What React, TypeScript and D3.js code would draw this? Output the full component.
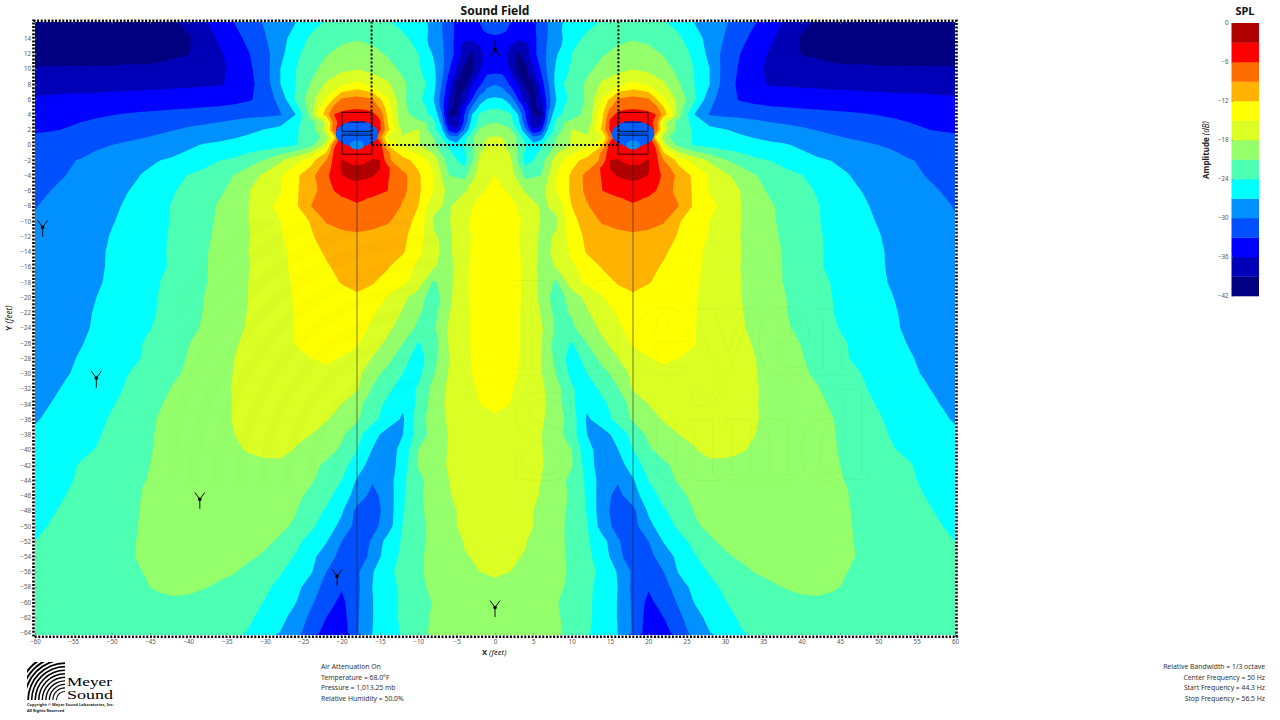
import React, { useRef, useEffect } from 'react';
import * as d3 from 'd3';

// band floors in dB and their fill, low to high
const levels = [-42, -39, -36, -33, -30, -27, -24, -21, -18, -15, -12, -9, -6, -3];
const levelColors = ['#000080', '#0000b6', '#0000ff', '#0050ff', '#0090ff', '#00ffff', '#4dffb2', '#94ff6b', '#dbff24', '#ffff00', '#ffb200', '#ff6d00', '#ff0000', '#b00000'];
const legendTicks = [0, -6, -12, -18, -24, -30, -36, -42];

const xTicks = d3.range(-60, 61, 5);
const yTicks = d3.range(14, -65, -2);

// SPL, x = -60..0 every 2 ft, y = 16..-64 every 2 ft. The field is mirrored about x = 0.
const fieldRows = [
  [-41, -41, -41, -41, -41, -41, -41, -41, -40.5, -39.5, -38.2, -36.5, -34.8, -33, -31.3, -29.7, -28.4, -27, -25, -23.6, -22.7, -22.3, -22.8, -23.5, -25, -26.2, -28.4, -31.3, -33.8, -33, -32],
  [-40.5, -40.5, -40.5, -40.5, -40.5, -40.5, -40.5, -40.5, -40.5, -40.3, -39.3, -37.4, -35.6, -33.9, -32.2, -30.2, -28, -25.8, -23.5, -22.5, -21.6, -21.2, -21.6, -22.4, -23.3, -25.2, -27.8, -31.3, -33.8, -34.5, -34.5],
  [-40, -40, -39.9, -39.9, -39.8, -39.8, -39.7, -39.7, -39.6, -39.4, -39.1, -37.9, -36.4, -34.8, -33, -31, -27.9, -24.6, -22.7, -21.2, -20.2, -19.8, -20.3, -21.3, -22.3, -24, -26.3, -31, -40.5, -37.5, -35],
  [-38.8, -38.8, -38.8, -38.8, -38.8, -38.8, -38.7, -38.7, -38.6, -38.2, -37.9, -37.3, -36.5, -35.5, -33.4, -31.3, -27, -24.1, -21.9, -19.9, -18.7, -18.2, -18.9, -20, -21.7, -23.5, -26.3, -33, -40.5, -37.5, -34.4],
  [-37, -37, -36.9, -36.9, -36.8, -36.7, -36.6, -36.5, -36.5, -36.4, -36.4, -36.3, -36.2, -35.6, -33.7, -31.5, -27, -24, -20.8, -17.6, -15.7, -14.2, -15.8, -17.5, -20.4, -23, -26, -34.5, -40, -33.6, -30.2],
  [-35.7, -35.6, -35.5, -35.4, -35.4, -35.3, -35.3, -35.2, -35.1, -35, -34.8, -34.6, -34.4, -34, -33.3, -31.7, -29, -23.4, -19.1, -14.5, -8.6, -7.7, -8.8, -14.7, -20.5, -23.4, -27, -37, -40, -28.5, -26.5],
  [-34, -33.9, -33.7, -33.5, -33.3, -33.1, -32.8, -32.5, -32.3, -32, -31.8, -31.5, -31.3, -31, -30.7, -30.5, -30.2, -27, -20, -10.5, -5.2, -4.6, -5.3, -12.5, -19.8, -22.7, -25, -39, -33, -23.8, -22.6],
  [-33.4, -33.2, -32.9, -32.5, -32.1, -31.7, -31.3, -31, -30.6, -30.1, -29.6, -29.2, -28.7, -28.1, -27.5, -26.9, -26, -24.5, -22, -16, -4.5, -4, -4.5, -13, -19, -17.8, -22.9, -33.8, -29.6, -20.6, -19.6],
  [-31.7, -31.4, -31.1, -30.8, -30.4, -30, -29.6, -29.2, -28.7, -28.3, -27.5, -26.8, -26.5, -26.2, -25.8, -25.4, -25, -24.3, -21.8, -16.5, -4.3, -3.8, -4.3, -12, -16, -17.8, -20.5, -24.4, -23.9, -18.8, -16.8],
  [-31, -30.6, -30.2, -29.9, -29.3, -28.6, -28, -27.5, -27.1, -26.6, -26, -25.3, -24.1, -23.5, -22.2, -20.8, -18.5, -16, -13.5, -9, -2.8, -4, -2.8, -8, -11, -13, -16.4, -22.5, -25.3, -17.5, -15.8],
  [-30.6, -30.3, -30, -29.6, -29, -28.4, -27.6, -26.9, -26, -25, -23.9, -23, -22, -20.9, -19.3, -17.3, -15.3, -12.8, -9.5, -6.5, -3.1, -2.2, -2.8, -5.7, -8, -11.5, -15, -21, -21.8, -16.5, -15],
  [-30.5, -30, -29.5, -29, -28.4, -27.8, -27.1, -26.3, -25.5, -24.2, -23.2, -22.3, -21.5, -20.1, -18, -16.9, -15.2, -12.5, -9.8, -7.9, -5.2, -4.5, -5, -6, -8.2, -11.4, -15, -19, -18.5, -15.2, -14.6],
  [-30.1, -29.6, -29.1, -28.5, -28.1, -27.6, -26.6, -25.7, -24.8, -23.8, -22.9, -22, -20.7, -19.4, -17.9, -16, -14.1, -12.5, -9, -7.6, -6.7, -6.2, -6.7, -7.6, -9.2, -12, -17.5, -18.4, -15.6, -14.6, -14.2],
  [-29.8, -29.4, -28.8, -28.4, -28, -27.2, -26.3, -25.5, -24.7, -23.8, -22.9, -22, -20.5, -19.3, -17.9, -16.4, -15, -13.4, -11.8, -8.7, -7.7, -7.2, -7.8, -8.6, -10.7, -12.9, -18.3, -18.2, -15.4, -14, -13.8],
  [-29.5, -29.1, -28.7, -28.3, -27.9, -26.8, -26, -25.3, -24.5, -23.7, -22.7, -21.6, -20.4, -19.2, -18, -16.4, -15.2, -13.9, -12.3, -10.7, -10, -9.7, -10, -10.7, -11.4, -13.5, -17.8, -18.5, -15.8, -14, -13.6],
  [-29.3, -28.9, -28.5, -28.1, -27.6, -26.6, -25.9, -25.2, -24.5, -23.6, -22.6, -21.3, -20.3, -19.2, -17.9, -16.9, -15.6, -14.3, -13, -11.6, -11, -10.6, -11, -11.4, -11.7, -14.3, -17.6, -18.6, -15.6, -14, -13.5],
  [-29.2, -28.8, -28.4, -28, -27.5, -26.6, -25.9, -25.2, -24.6, -23.6, -22.6, -21.3, -20.2, -19.2, -18, -16.8, -15.6, -14.4, -13.3, -12.3, -11.3, -10.8, -11.2, -11.8, -13.5, -15.6, -17.8, -19, -15.4, -14, -13.5],
  [-29.2, -28.8, -28.4, -28, -27.4, -26.4, -25.7, -25.1, -24.1, -23.4, -22.5, -21.3, -20.1, -19, -17.9, -16.8, -15.6, -14.7, -13.9, -13, -11.8, -11.4, -11.8, -13, -14.4, -16.3, -21.5, -18.8, -15.4, -14, -13.5],
  [-29.1, -28.7, -28.3, -27.9, -27, -26.4, -25.7, -25, -24, -23.2, -22.3, -21, -19.9, -18.9, -17.9, -16.8, -15.8, -14.8, -14.3, -13.8, -13.3, -12.3, -13, -15.3, -17.2, -19.6, -22.8, -18.7, -15.4, -14, -13.4],
  [-29, -28.6, -28.1, -27.5, -26.8, -26.2, -25.5, -24.9, -23.9, -23, -22.1, -20.9, -19.8, -18.8, -17.8, -16.9, -15.9, -14.8, -14.4, -14, -13.6, -13.2, -14.7, -16.4, -18.3, -20.7, -22, -18.2, -15.6, -14, -13.4],
  [-28.8, -28.4, -27.9, -27.4, -26.7, -26, -25.4, -24.6, -23.6, -22.7, -21.7, -20.7, -19.7, -18.6, -17.7, -16.9, -15.9, -14.9, -14.5, -14.2, -13.9, -13.8, -15.5, -17.3, -19.5, -21.5, -21.5, -17.5, -15.6, -14, -13.4],
  [-28.6, -28.1, -27.6, -27.1, -26.5, -25.8, -25.1, -24, -23.1, -22.1, -21.1, -20.1, -19.2, -18.2, -17.5, -16.6, -15.8, -14.9, -14.6, -14.4, -14.3, -14.7, -16.7, -18.6, -21, -24.2, -22.4, -17.8, -15.6, -14, -13.4],
  [-28.4, -27.9, -27.4, -26.8, -26.2, -25.5, -24.8, -23.9, -23, -22, -20.8, -19.9, -19, -18, -17.6, -17, -16.2, -15.5, -15, -14.7, -15.1, -16, -18.1, -20, -22.8, -25.5, -21.9, -18, -15.6, -14.2, -13.5],
  [-28.4, -28, -27.2, -26.5, -25.9, -25.2, -24.1, -23.2, -22.3, -21.4, -20.6, -19.7, -18.8, -17.9, -17.4, -16.8, -16.2, -15.7, -15.5, -15.4, -15.7, -17.2, -19.8, -22, -24, -24.8, -21.2, -17.8, -15.5, -14.5, -14],
  [-28, -27.5, -26.7, -26.2, -25.7, -24.8, -23.7, -22.8, -21.9, -20.8, -20, -19.2, -18.4, -17.9, -17.5, -17.1, -16.7, -16.2, -16, -16, -16.6, -17.7, -21.2, -23.2, -25.7, -23.6, -19.9, -17.4, -15.8, -14.8, -14.4],
  [-27.6, -27, -26.3, -25.8, -25.2, -24.2, -23.3, -22.4, -21.3, -20.4, -19.6, -19, -18.5, -17.9, -17.5, -17.1, -16.9, -16.8, -16.9, -17.3, -18, -20.1, -22.5, -24.7, -26.5, -23.3, -19.6, -17.3, -16, -15, -14.7],
  [-27.2, -26.6, -25.9, -25.3, -24.7, -23.7, -22.7, -21.9, -20.9, -20.1, -19.5, -18.9, -18.4, -17.9, -17.6, -17.4, -17.3, -17.2, -17.3, -17.8, -19, -20.6, -23, -25.6, -27.4, -22.4, -19.4, -17.6, -16.4, -15.6, -15.2],
  [-26.6, -26, -25.3, -24.7, -24.3, -23.4, -22.6, -21.7, -20.8, -20.1, -19.5, -19, -18.5, -18, -17.8, -17.7, -17.6, -17.7, -18, -19, -20.5, -22.9, -26.1, -28, -27, -22.6, -19.8, -17.9, -16.8, -16, -15.5],
  [-26, -25.5, -25, -24.5, -23.9, -23.2, -22.4, -21.6, -20.7, -20.1, -19.6, -19.2, -18.8, -18.3, -17.8, -17.5, -17.4, -18.1, -19, -20, -21.4, -24, -27.1, -28.2, -26.2, -21, -19.5, -17.8, -16.9, -16.2, -15.8],
  [-25.5, -25.1, -24.6, -23.8, -23.2, -22.6, -22.1, -21.4, -20.6, -20.2, -19.8, -19.5, -19.2, -18.9, -18.6, -18.4, -18.5, -19, -20.2, -21.5, -23, -25.3, -28.5, -28.7, -25.5, -20.7, -19.3, -17.7, -16.9, -16.3, -16],
  [-25.1, -24.7, -24.2, -23.8, -23.2, -22.7, -22.1, -21.1, -20.7, -20.4, -20.1, -19.8, -19.5, -19.3, -19.2, -19.2, -19.4, -19.9, -20.7, -22, -24, -27.3, -29.7, -28.6, -24.5, -21.8, -19.7, -18, -17.3, -16.7, -16.3],
  [-24.8, -24.4, -24, -23.6, -23.2, -22.7, -22.1, -20.9, -20.7, -20.4, -20.2, -20, -19.8, -19.7, -19.7, -19.8, -20, -20.4, -21.6, -23.1, -25.4, -28.2, -30.9, -28.7, -24.4, -21.5, -19.7, -18.1, -17.5, -17, -16.7],
  [-24.5, -24.2, -23.7, -23.4, -23, -22.4, -21.8, -20.8, -20.6, -20.4, -20.2, -20.1, -20, -20, -20.1, -20.2, -20.4, -20.9, -22.9, -24.3, -26.6, -30.8, -31.5, -28.8, -24.2, -21.6, -20, -18.3, -17.7, -17.2, -17],
  [-24.4, -23.9, -23.4, -23.1, -22.7, -22.1, -21.5, -20.8, -20.6, -20.4, -20.3, -20.2, -20.1, -20, -20.1, -20.3, -20.6, -21.3, -23.4, -25.5, -27.8, -31.1, -31, -28.5, -23.8, -21.6, -20.3, -18.3, -17.7, -17.4, -17.2],
  [-24, -23.4, -23, -22.6, -22.2, -21.7, -21.3, -20.8, -20.6, -20.4, -20.3, -20.2, -20.1, -20.2, -20.3, -20.6, -21.3, -23.3, -25, -26.8, -30, -31.9, -29.6, -25.9, -23.6, -21.5, -20.4, -19.1, -17.9, -17.6, -17.4],
  [-23.9, -23.2, -22.8, -22.4, -22, -21.6, -21.2, -20.8, -20.6, -20.4, -20.3, -20.3, -20.4, -20.5, -20.7, -21.3, -22.8, -24.2, -26.2, -28.5, -31, -32.5, -28.8, -25.5, -23.3, -21.3, -20.5, -19.3, -18.1, -17.8, -17.6],
  [-23.7, -23, -22.6, -22.2, -21.9, -21.6, -21.3, -21, -20.7, -20.6, -20.6, -20.6, -20.7, -20.9, -21.6, -22.3, -23.8, -25.1, -26.7, -30, -32.5, -30.5, -27.2, -24.7, -23, -21.2, -20.6, -19.7, -18.8, -18, -17.8],
  [-23.5, -22.9, -22.5, -22.1, -21.8, -21.6, -21.3, -21.1, -20.9, -20.7, -20.7, -20.9, -21.2, -21.7, -22.5, -23.6, -24.6, -26, -28.6, -31, -32.7, -30.7, -27, -25.1, -23.3, -21.5, -20.5, -19.9, -19.1, -18.6, -18.3],
  [-23.3, -22.8, -22.4, -22.1, -21.9, -21.7, -21.5, -21.3, -21.2, -21.2, -21.3, -21.6, -22, -22.6, -23.3, -24.1, -25.4, -26.9, -29.6, -31.7, -33.8, -30.5, -27.1, -25.2, -23.4, -21.7, -20.9, -20.3, -19.8, -19.4, -19.2],
  [-23.3, -22.9, -22.5, -22.3, -22.1, -21.9, -21.8, -21.7, -21.6, -21.7, -21.8, -22, -22.3, -22.9, -23.6, -25, -26.1, -28.2, -30.6, -33, -34.3, -30.4, -27.1, -25.2, -23.4, -21.8, -20.7, -20.4, -20, -19.6, -19.5],
  [-23.4, -23, -22.7, -22.5, -22.3, -22.2, -22.1, -22, -22, -22.1, -22.2, -22.4, -22.7, -23.2, -24.3, -25.7, -27.1, -29, -31.6, -34.2, -34.8, -30.3, -27, -25.1, -23.7, -21.8, -20.5, -20.1, -19.9, -19.7, -19.6],
];

// finer reading round the left loudspeaker, x = -24..-12 every 1 ft, y = 6..-8 every 1 ft
const nearRows = [
  [-19.1, -17, -14.5, -11.7, -8.6, -7.9, -7.7, -7.9, -8.8, -11.5, -14.7, -17.4, -20.5],
  [-19.5, -15.8, -12, -8.3, -7, -6.7, -6.5, -6.7, -7.3, -9.4, -13.6, -17.3, -20.2],
  [-20, -14, -10.5, -6, -5.2, -4.8, -4.6, -4.8, -5.3, -7, -12.5, -17, -19.8],
  [-22, -20, -17, -7, -4.6, -4.2, -4, -4.2, -4.6, -5.5, -12, -16.5, -19.8],
  [-22, -20, -16, -6.5, -4.5, -4, -4, -4, -4.5, -5.5, -11, -15.3, -19],
  [-23, -21.5, -19, -13, -4, -4, -4, -4, -4, -8, -15.5, -16.8, -18],
  [-21.8, -19.8, -16.5, -6.5, -4.3, -4, -3.8, -4, -4.3, -4.5, -12, -14.5, -16],
  [-17.5, -14.5, -12, -5.5, -4, -3.7, -3.6, -3.7, -4, -4.5, -8, -11.5, -13.5],
  [-13.5, -10.5, -9, -5, -2.8, -3.5, -4, -3.5, -2.8, -3, -8, -10.2, -11],
  [-11.5, -9.2, -7.5, -5, -2.6, -2.4, -2.6, -2.4, -2.6, -2.9, -5.2, -8, -10],
  [-9.5, -8.5, -6.5, -5, -3.1, -2.4, -2.2, -2.4, -2.8, -3.7, -5.7, -7, -8],
  [-9.7, -8.7, -7, -5.3, -4, -3.6, -3.3, -3.6, -4, -4.8, -5.9, -7.2, -8.1],
  [-9.8, -8.8, -7.9, -6, -5.2, -4.8, -4.5, -4.8, -5, -5.4, -6, -7, -8.2],
  [-9.5, -8.3, -7.7, -7, -6.2, -5.9, -5.7, -5.9, -6.2, -6.8, -7.2, -8, -9],
  [-9, -8.3, -7.6, -7, -6.7, -6.4, -6.2, -6.4, -6.7, -7.1, -7.6, -8.4, -9.2],
];

// finer reading of the rear null, x = -10..0 every 1 ft, y = 16..0 every 1 ft, mirrored about x = 0
const nullRows = [
  [-26.2, -26.8, -28, -29.7, -31.7, -33.6, -34, -34, -33, -32.2, -32],
  [-25.7, -26.6, -28, -29.8, -31.8, -33.6, -34.3, -34.3, -33.4, -32.6, -32.4],
  [-25.2, -26.8, -28, -29.6, -31.8, -33.8, -35, -35.2, -34.8, -33.8, -33.4],
  [-24.6, -26.6, -27.8, -29.4, -31.6, -34, -37.2, -38, -36, -34.6, -34],
  [-24, -25.8, -27.3, -29.3, -31.5, -33.9, -37.8, -39.6, -36.6, -35, -34.5],
  [-23.8, -25.4, -26.9, -29, -31.9, -35, -38.4, -40, -36.8, -35, -34.6],
  [-23.5, -25, -26.5, -29, -32.6, -36.4, -39.8, -39.9, -36.3, -34.5, -34],
  [-23.2, -24.5, -26.2, -29.2, -33.6, -37.3, -40.3, -38.5, -35, -32.5, -32.4],
  [-23, -23.9, -26, -30, -34.7, -39.6, -40, -36, -33.6, -31, -30.2],
  [-23.2, -24.3, -26.4, -30.5, -35.5, -39.9, -38.5, -34.5, -31.5, -29, -28.3],
  [-23.4, -24.7, -27, -31, -37, -40, -37.5, -33, -28.3, -26.8, -26.5],
  [-23, -24, -26, -31, -38, -39.6, -34.5, -29.8, -26.5, -24.8, -24.4],
  [-22.7, -23.6, -25, -29, -39.5, -39, -33, -27, -23.5, -22.9, -22.6],
  [-20.2, -21, -23, -28, -37.5, -38.5, -32.3, -25.8, -23, -21.5, -21.1],
  [-17.8, -20.4, -22.9, -26, -33.8, -36, -29.6, -24.6, -20.6, -19.9, -19.6],
  [-17.8, -18.8, -21, -23.8, -28.5, -29.5, -25.5, -21.5, -18.8, -18, -17.7],
  [-17.8, -19, -20.5, -22.5, -24.4, -26, -23.9, -21.5, -18.8, -17.2, -16.8],
];

// microphone positions in feet, the last one faces the other way
const micX = [-59, -52, -38.5, -20.6, 0, 0];
const micY = [-10.8, -30.6, -46.5, -56.6, -60.7, 12.5];
const micFlip = [false, false, false, false, false, true];

const speakerX = [-18, 18];
const airLines = ['Air Attenuation On', 'Temperature = 68.0°F', 'Pressure = 1,013.25  mb', 'Relative Humidity = 50.0%'];
const bandLines = ['Relative Bandwidth = 1/3 octave', 'Center Frequency = 50 Hz', 'Start Frequency = 44.3 Hz', 'Stop Frequency = 56.5 Hz'];
const logoRadii = [8, 11.5, 15, 18.5, 22, 25.5, 29, 32.5, 36, 39.5, 43, 46.5];

const FONT = '"Noto Sans", "Open Sans", sans-serif';

const App: React.FC = () => {
  const svgRef = useRef<SVGSVGElement>(null);

  useEffect(() => {
    if (!svgRef.current) return;
    const svg = d3.select(svgRef.current);
    svg.selectAll('*').remove();

    const x = d3.scaleLinear().domain([-60, 60]).range([35, 955]);
    const y = d3.scaleLinear().domain([0, -64]).range([145, 632.7]);
    const plot = { left: 35, right: 955, top: 22, bottom: 635 };

    const defs = svg.append('defs');
    // clip edges sit on whole pixels, or the stacked bands bleed through along them
    const addClip = (id: string, x0: number, y0: number, x1: number, y1: number) => {
      const [l, t, r, b] = [x0, y0, x1, y1].map(Math.round);
      defs.append('clipPath').attr('id', id).append('rect')
        .attr('x', l).attr('y', t).attr('width', r - l).attr('height', b - t);
    };
    addClip('plot-clip', plot.left, plot.top, plot.right, plot.bottom);

    // Draw the filled bands of one grid
    const drawBands = (parent: any, rows: number[][], toX: (c: number) => number, toY: (c: number) => number) => {
      const contours = d3.contours().size([rows[0].length, rows.length]).thresholds(levels);
      const path = d3.geoPath(d3.geoTransform({
        point(this: any, cx: number, cy: number) { this.stream.point(toX(cx), toY(cy)); }
      }));
      parent.selectAll('path.band')
        .data(contours(rows.flat()))
        .enter()
        .append('path')
        .attr('class', 'band')
        .attr('d', (d: any) => path(d))
        .attr('fill', (_: any, i: number) => levelColors[i]);
    };
    const mirror = (r: number[]) => r.concat(r.slice(0, -1).reverse());

    // Whole field, mirrored about the centre line
    const field = svg.append('g').attr('clip-path', 'url(#plot-clip)');
    drawBands(field, fieldRows.map(mirror), c => x(-60 + (c - 0.5) * 2), c => y(16 - (c - 0.5) * 2));

    // Rear null between the loudspeakers
    addClip('null-clip', x(-10), plot.top, x(10), y(0));
    drawBands(svg.append('g').attr('clip-path', 'url(#null-clip)'), nullRows.map(mirror), c => x(-10 + (c - 0.5)), c => y(16 - (c - 0.5)));

    // Near field of both loudspeakers
    speakerX.forEach((sx, i) => {
      const id = `near-clip-${i}`;
      addClip(id, x(sx - 6), y(6), x(sx + 6), y(-8));
      const rows = i === 0 ? nearRows : nearRows.map(r => r.slice().reverse());
      drawBands(svg.append('g').attr('clip-path', `url(#${id})`), rows, c => x(sx - 6 + (c - 0.5)), c => y(6 - (c - 0.5)));
    });

    // Quarter-ring fan of the logo, centred on its lower right corner
    const drawFan = (parent: any, id: string, cx: number, cy: number, size: number, scale: number, fill: string, opacity: number) => {
      addClip(id, cx - size, cy - size, cx, cy);
      const g = parent.append('g').attr('clip-path', `url(#${id})`);
      const arc = d3.arc();
      logoRadii.forEach((r, i) => {
        g.append('path')
          .attr('transform', `translate(${cx},${cy})`)
          .attr('d', arc({ innerRadius: r * scale, outerRadius: (r + 1.1 + i * 0.08) * scale, startAngle: -Math.PI / 2, endAngle: 0 } as any))
          .attr('fill', fill).attr('fill-opacity', opacity);
      });
    };

    // Faint watermark over the field
    const mark = svg.append('g').attr('clip-path', 'url(#plot-clip)');
    drawFan(mark, 'mark-fan', 437, 483, 262, 6.6, '#000', 0.012);
    const markText = mark.append('g').attr('font-family', '"Liberation Serif", serif').attr('font-weight', 700)
      .attr('fill', 'none').attr('stroke', '#000').attr('stroke-opacity', 0.035).attr('stroke-width', 1);
    markText.append('text').attr('x', 510).attr('y', 375).attr('font-size', 144).attr('textLength', 360).attr('lengthAdjust', 'spacingAndGlyphs').text('Meyer');
    markText.append('text').attr('x', 508).attr('y', 480).attr('font-size', 132).attr('textLength', 362).attr('lengthAdjust', 'spacingAndGlyphs').text('Sound');

    // Loudspeaker overlays
    speakerX.forEach(sx => {
      const g = svg.append('g');
      g.append('ellipse')
        .attr('cx', x(sx)).attr('cy', y(1.45))
        .attr('rx', x(2.78) - x(0)).attr('ry', y(0) - y(1.7))
        .attr('fill', '#0060ff');
      g.append('ellipse')
        .attr('cx', x(sx)).attr('cy', y(0))
        .attr('rx', x(0.9) - x(0)).attr('ry', y(-0.6) - y(0))
        .attr('fill', '#0090ff');
      g.append('line')
        .attr('x1', x(sx)).attr('x2', x(sx))
        .attr('y1', y(3.4)).attr('y2', y(-64.3))
        .attr('stroke', '#222').attr('stroke-opacity', 0.5).attr('stroke-width', 1.2);
      g.append('line')
        .attr('x1', x(sx - 1.1)).attr('x2', x(sx + 1.1))
        .attr('y1', y(3)).attr('y2', y(3))
        .attr('stroke', '#000060').attr('stroke-width', 1);
      [[4.3, 1.8], [1.3, -1.2]].forEach(([top, bottom]) => {
        g.append('rect')
          .attr('x', x(sx - 1.95)).attr('y', y(top))
          .attr('width', x(1.95) - x(-1.95)).attr('height', y(bottom) - y(top))
          .attr('fill', 'none').attr('stroke', '#000').attr('stroke-width', 0.8);
      });
      g.append('line')
        .attr('x1', x(sx - 1.9)).attr('x2', x(sx + 1.9))
        .attr('y1', y(1.55)).attr('y2', y(1.55))
        .attr('stroke', '#000').attr('stroke-opacity', 0.6).attr('stroke-width', 0.6);
    });

    // Dashed walls
    const walls = d3.line<[number, number]>().x(d => x(d[0])).y(d => y(d[1]));
    svg.append('path')
      .attr('d', walls([[-16.1, 16.2], [-16.1, 0], [16.1, 0], [16.1, 16.2]]))
      .attr('fill', 'none').attr('stroke', '#000').attr('stroke-width', 2).attr('stroke-dasharray', '2,2');

    // Microphones
    micX.forEach((mx, i) => {
      const g = svg.append('g')
        .attr('transform', `translate(${x(mx)},${y(micY[i])}) rotate(${micFlip[i] ? 180 : 0})`)
        .attr('stroke', '#000').attr('stroke-width', 0.9).attr('fill', 'none');
      g.append('path').attr('d', d3.line()([[-5, -7], [0, 0], [5, -7]]));
      g.append('path').attr('d', d3.line()([[0, 0], [0, 9.5]]));
      g.append('circle').attr('r', 1.4).attr('fill', '#000');
    });

    // Axes
    const styleAxis = (g: any) => {
      g.select('.domain').remove();
      g.selectAll('line').attr('stroke', '#777').attr('stroke-width', 0.6);
      g.selectAll('text').attr('font-family', FONT).attr('font-size', 6.2).attr('fill', '#555');
    };
    svg.append('g').attr('transform', `translate(0,${plot.bottom})`)
      .call(d3.axisBottom(x).tickValues(xTicks).tickSize(-2).tickPadding(4.5).tickFormat(d3.format('d') as any) as any)
      .call(styleAxis);
    svg.append('g').attr('transform', `translate(${plot.left},0)`)
      .call(d3.axisLeft(y).tickValues(yTicks).tickSize(-2).tickPadding(4).tickFormat(d3.format('d') as any) as any)
      .call(styleAxis);
    svg.append('g').attr('transform', `translate(0,${plot.top})`)
      .call(d3.axisTop(x).tickValues(xTicks).tickSize(-2).tickFormat(() => '') as any)
      .call(styleAxis);

    // Dotted frame
    svg.append('rect')
      .attr('x', 33.5).attr('y', 20.8).attr('width', 923).attr('height', 616)
      .attr('fill', 'none').attr('stroke', '#000').attr('stroke-width', 2.6).attr('stroke-dasharray', '2,1.6');

    svg.append('text')
      .attr('x', 495).attr('y', 15).attr('text-anchor', 'middle')
      .attr('font-family', FONT).attr('font-size', 12).attr('font-weight', 700).attr('fill', '#111')
      .text('Sound Field');

    const axisName = svg.append('text')
      .attr('x', 482).attr('y', 655)
      .attr('font-family', FONT).attr('font-size', 7.6).attr('fill', '#222');
    axisName.append('tspan').attr('font-weight', 700).text('X ');
    axisName.append('tspan').attr('font-style', 'italic').text('(feet)');
    const yName = svg.append('text')
      .attr('transform', 'translate(12,318) rotate(-90)').attr('text-anchor', 'middle')
      .attr('font-family', FONT).attr('font-size', 8).attr('fill', '#222');
    yName.append('tspan').attr('font-weight', 700).text('Y ');
    yName.append('tspan').attr('font-style', 'italic').text('(feet)');

    // Colour bar
    const legendY = d3.scaleLinear().domain([0, -42]).range([23, 296]);
    const bar = svg.append('g');
    bar.selectAll('rect')
      .data(levels)
      .enter()
      .append('rect')
      .attr('x', 1231.5).attr('width', 27.5)
      .attr('y', d => legendY(d + 3))
      .attr('height', d => legendY(d) - legendY(d + 3) + 0.3)
      .attr('fill', (_, i) => levelColors[i]);
    bar.append('g').attr('transform', 'translate(1231.5,0)')
      .call(d3.axisLeft(legendY).tickValues(legendTicks).tickSize(-1.5).tickPadding(3).tickFormat(d3.format('d') as any) as any)
      .call(styleAxis);
    svg.append('text')
      .attr('x', 1245).attr('y', 15).attr('text-anchor', 'middle')
      .attr('font-family', FONT).attr('font-size', 11).attr('font-weight', 700).attr('fill', '#111')
      .text('SPL');
    const ampName = svg.append('text')
      .attr('transform', 'translate(1208.5,150) rotate(-90)').attr('text-anchor', 'middle')
      .attr('font-family', FONT).attr('font-size', 8).attr('fill', '#222');
    ampName.append('tspan').attr('font-weight', 700).text('Amplitude ');
    ampName.append('tspan').attr('font-style', 'italic').text('(dB)');

    // Footer notes
    airLines.forEach((t, i) => {
      svg.append('text').attr('x', 321).attr('y', 669 + i * 10.7)
        .attr('font-family', FONT).attr('font-size', 6.8).attr('fill', '#333').text(t);
    });
    bandLines.forEach((t, i) => {
      svg.append('text').attr('x', 1265).attr('y', 669 + i * 10.7).attr('text-anchor', 'end')
        .attr('font-family', FONT).attr('font-size', 6.8).attr('fill', '#333').text(t);
    });

    // Logo
    const logo = svg.append('g');
    drawFan(logo, 'logo-fan', 65, 700, 38, 1, '#000', 1);
    logo.append('text').attr('x', 67).attr('y', 686).attr('font-family', '"Liberation Serif", serif')
      .attr('font-size', 13).attr('textLength', 45).attr('lengthAdjust', 'spacingAndGlyphs').attr('fill', '#000').text('Meyer');
    logo.append('text').attr('x', 67).attr('y', 699).attr('font-family', '"Liberation Serif", serif')
      .attr('font-size', 13).attr('textLength', 46).attr('lengthAdjust', 'spacingAndGlyphs').attr('fill', '#000').text('Sound');
    logo.append('text').attr('x', 27).attr('y', 706).attr('font-family', FONT).attr('font-weight', 700)
      .attr('font-size', 3.9).attr('textLength', 87).attr('fill', '#222').text('Copyright © Meyer Sound Laboratories, Inc.');
    logo.append('text').attr('x', 27).attr('y', 711.5).attr('font-family', FONT).attr('font-weight', 700)
      .attr('font-size', 3.9).attr('fill', '#222').text('All Rights Reserved');
  }, []);

  return (
    <svg
      ref={svgRef}
      width={1280}
      height={720}
      style={{ position: 'absolute', left: 0, top: 0, background: '#fff' }}
      viewBox="0 0 1280 720"
    />
  );
};

export default App;
